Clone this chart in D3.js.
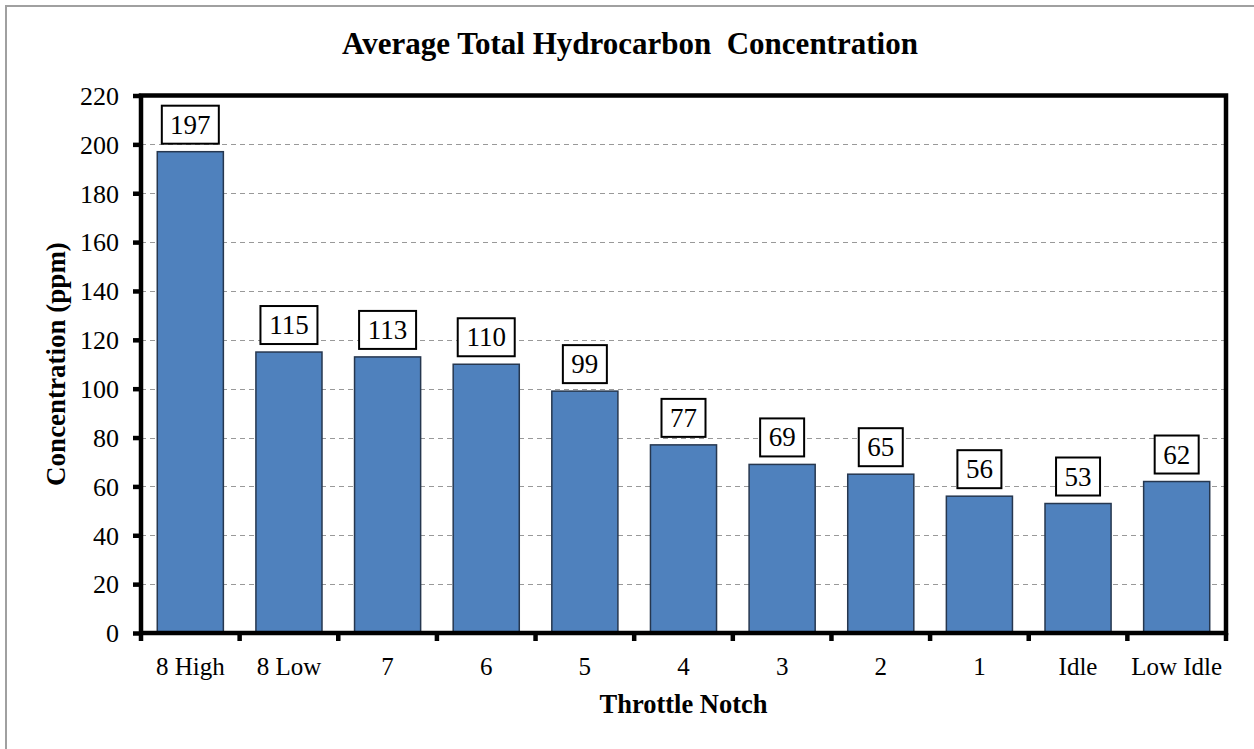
<!DOCTYPE html>
<html>
<head>
<meta charset="utf-8">
<script src="https://cdn.jsdelivr.net/npm/d3@7/dist/d3.min.js"></script>
<style>
  html, body { margin: 0; padding: 0; background: #fff; }
  svg { display: block; }
  svg text { font-family: "Liberation Serif", "Times New Roman", Times, serif !important; fill: #000; }
</style>
</head>
<body>
<svg id="chart" width="1254" height="749"></svg>
<script>
const categories = ["8 High", "8 Low", "7", "6", "5", "4", "3", "2", "1", "Idle", "Low Idle"];
const values = [197, 115, 113, 110, 99, 77, 69, 65, 56, 53, 62];
const yTicks = [0, 20, 40, 60, 80, 100, 120, 140, 160, 180, 200, 220];
const titleText = "Average Total Hydrocarbon  Concentration";
const xTitle = "Throttle Notch";
const yTitle = "Concentration (ppm)";

(function () {
const svg = d3.select("#chart");
const W = 1254, H = 749;
const pLeft = 141, pRight = 1226, pTop = 95.5, pBottom = 633;
const serif = '"Liberation Serif", "Times New Roman", serif';

svg.append("rect").attr("x", 6).attr("y", 6).attr("width", W + 10).attr("height", H + 10)
  .attr("fill", "#fff").attr("stroke", "#a0a0a0").attr("stroke-width", 2);

const x = d3.scaleBand().domain(categories).range([pLeft, pRight]).paddingInner(0.33).paddingOuter(0.165);
const y = d3.scaleLinear().domain([0, 220]).range([pBottom, pTop]);

// gridlines
svg.append("g").selectAll("line").data(yTicks.filter(d => d > 0 && d < 220)).join("line")
  .attr("x1", pLeft).attr("x2", pRight)
  .attr("y1", d => Math.round(y(d)) + 0.5).attr("y2", d => Math.round(y(d)) + 0.5)
  .attr("stroke", "#999").attr("stroke-width", 1).attr("stroke-dasharray", "5,4");

// bars
svg.append("g").selectAll("rect").data(values).join("rect")
  .attr("x", (d, i) => x(categories[i]))
  .attr("y", d => y(d))
  .attr("width", x.bandwidth())
  .attr("height", d => y(0) - y(d))
  .attr("fill", "#4F81BD").attr("stroke", "#26374f").attr("stroke-width", 1.5);

// frame
svg.append("rect").attr("x", pLeft).attr("y", pTop).attr("width", pRight - pLeft).attr("height", pBottom - pTop)
  .attr("fill", "none").attr("stroke", "#000").attr("stroke-width", 4.5);

// y axis
const yAxis = d3.axisLeft(y).tickValues(yTicks).tickSize(8).tickPadding(14).tickFormat(d3.format("d"));
const gy = svg.append("g").attr("transform", `translate(${pLeft},0)`).call(yAxis)
  .attr("font-family", serif).attr("font-size", 26);
gy.select(".domain").remove();
gy.selectAll(".tick line").attr("stroke", "#000").attr("stroke-width", 4.5);
gy.selectAll(".tick text").style("font-family", serif).style("font-size", "26px").attr("fill", "#000").attr("dy", "0.34em");

// x axis ticks at band boundaries
const boundaries = categories.map(c => x(c) - x.step() * x.paddingInner() / 2).concat([pRight]);
svg.append("g").selectAll("line").data(boundaries).join("line")
  .attr("x1", d => d).attr("x2", d => d)
  .attr("y1", pBottom).attr("y2", pBottom + 8)
  .attr("stroke", "#000").attr("stroke-width", 4.5);

svg.append("g").selectAll("text").data(categories).join("text")
  .attr("x", d => x(d) + x.bandwidth() / 2).attr("y", 675)
  .attr("text-anchor", "middle").style("font-family", serif).style("font-size", "25px").text(d => d);

// data labels
const lab = svg.append("g").selectAll("g").data(values).join("g");
lab.append("rect")
  .attr("x", (d, i) => x(categories[i]) + x.bandwidth() / 2 - (String(d).length === 3 ? 28.5 : 22))
  .attr("y", d => y(d) - 8 - 38)
  .attr("width", d => String(d).length === 3 ? 57 : 44)
  .attr("height", 38)
  .attr("fill", "#fff").attr("stroke", "#000").attr("stroke-width", 2);
lab.append("text")
  .attr("x", (d, i) => x(categories[i]) + x.bandwidth() / 2)
  .attr("y", d => y(d) - 8 - 10)
  .attr("text-anchor", "middle").style("font-family", serif).style("font-size", "27px").text(d => d);

// titles
svg.append("text").attr("x", 630).attr("y", 54).attr("text-anchor", "middle")
  .style("font-family", serif).style("font-size", "31px").style("font-weight", "bold")
  .attr("xml:space", "preserve").style("white-space", "pre").text(titleText);
svg.append("text").attr("x", 683.5).attr("y", 713).attr("text-anchor", "middle")
  .style("font-family", serif).style("font-size", "26.5px").style("font-weight", "bold").text(xTitle);
svg.append("text").attr("transform", "translate(65,364) rotate(-90)").attr("text-anchor", "middle")
  .style("font-family", serif).style("font-size", "27px").style("font-weight", "bold").text(yTitle);
})();
</script>
</body>
</html>
